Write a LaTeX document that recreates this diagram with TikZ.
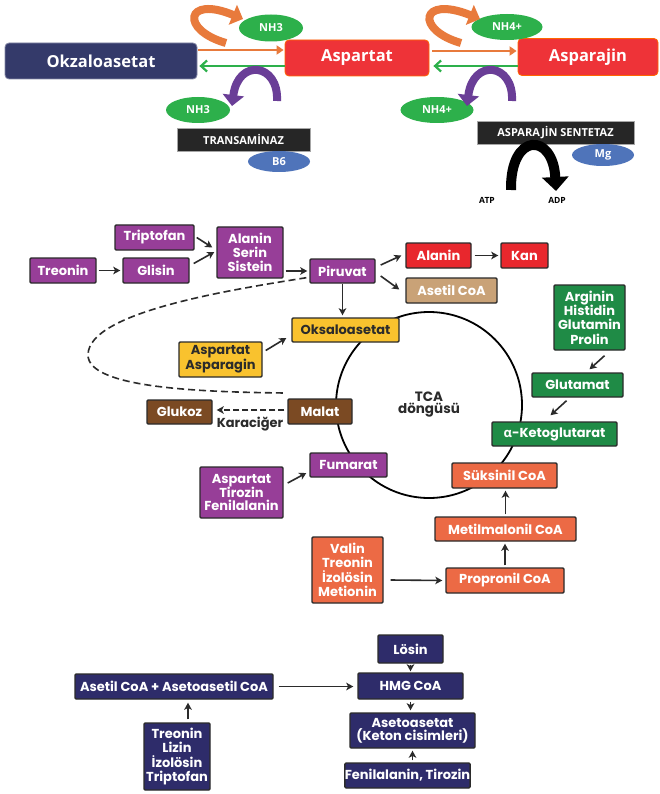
\documentclass[tikz,border=0pt]{standalone}
\usepackage{fontspec}
\setmainfont{Open Sans}
\newfontfamily\geo{Poppins}
\newfontfamily\grk{Open Sans}
\usetikzlibrary{arrows.meta,shapes.geometric}

\definecolor{navyA}{HTML}{343A6A}
\definecolor{navyB}{HTML}{2E2C6A}
\definecolor{redA}{HTML}{EE3338}
\definecolor{nhgreen}{HTML}{2DB04B}
\definecolor{enzblue}{HTML}{4F74BA}
\definecolor{enzblack}{HTML}{262626}
\definecolor{arrOrange}{HTML}{E87A3C}
\definecolor{arrGreen}{HTML}{2DB04B}
\definecolor{arrPurple}{HTML}{6A3E97}
\definecolor{boxline}{HTML}{2B2B2B}
\definecolor{purp}{HTML}{973E98}
\definecolor{redB}{HTML}{E8272D}
\definecolor{tanc}{HTML}{C9A277}
\definecolor{yel}{HTML}{F9C22E}
\definecolor{brn}{HTML}{7B4A23}
\definecolor{grn}{HTML}{1F8B46}
\definecolor{orgc}{HTML}{EC6A45}

\tikzset{
  topbox/.style={rounded corners=4pt, inner sep=0pt, text=white, line width=0.8pt,
    font=\bfseries\fontsize{16.5}{18}\selectfont},
  ell/.style={ellipse, inner sep=0pt, text=white, font=\bfseries\fontsize{11}{11}\selectfont},
  enzbox/.style={fill=enzblack, draw=gray!70, line width=0.6pt, inner sep=0pt, text=white,
    font=\bfseries\fontsize{11}{11}\selectfont},
  fatarrow/.style={line width=8pt, -{Triangle[length=11pt,width=21pt]}},
  thinarrow/.style={line width=2.2pt},
  mbox/.style={draw=boxline, line width=1.4pt, rounded corners=1.2pt, inner sep=0pt,
    align=center, text=white, font=\geo\bfseries\fontsize{13}{14}\selectfont},
  conn/.style={draw=boxline, line width=1.6pt, -{Stealth[length=7pt,width=7.5pt,inset=1.8pt]}},
  dashline/.style={draw=boxline, line width=1.6pt, dash pattern=on 7pt off 4pt},
}

\begin{document}
\begin{tikzpicture}[x=1pt,y=-1pt]
\useasboundingbox (0,0) rectangle (659,794);
\fill[white] (0,0) rectangle (659,794);

% ---------- Aspartat / Asparajin reactions ----------
\node[topbox, fill=navyA, draw=navyA!60!white, minimum width=192pt, minimum height=36pt] (okz) at (101,61) {Okzaloasetat};
\node[topbox, fill=redA, draw=orange!80!red, minimum width=144pt, minimum height=36pt] (asp) at (357,58) {Aspartat};
\node[topbox, fill=redA, draw=orange!80!red, minimum width=140pt, minimum height=37pt] (aspj) at (588,57) {Asparajin};

\draw[thinarrow, draw=arrOrange, -{Triangle[length=7pt,width=9pt]}] ([shift={(1,-11)}]okz.east) -- ([shift={(-1,-8)}]asp.west);
\draw[thinarrow, draw=arrGreen, -{Straight Barb[length=6pt,width=11pt]}] ([shift={(0,8)}]asp.west) -- ([shift={(2,5)}]okz.east);
\draw[thinarrow, draw=arrOrange, -{Triangle[length=7pt,width=9pt]}] ([shift={(3,-7)}]asp.east) -- ([shift={(-1,-6)}]aspj.west);
\draw[thinarrow, draw=arrGreen, -{Straight Barb[length=6pt,width=11pt]}] ([shift={(0,9)}]aspj.west) -- ([shift={(4,8)}]asp.east);

\node[ell, fill=nhgreen, minimum width=64pt, minimum height=27pt] (nh3a) at (271,28) {NH3};
\node[ell, fill=nhgreen, minimum width=64pt, minimum height=26pt] (nh3b) at (198,110) {NH3};
\node[ell, fill=nhgreen, minimum width=71pt, minimum height=26pt] (nh4a) at (507,27) {NH4+};
\node[ell, fill=nhgreen, minimum width=73pt, minimum height=26pt] (nh4b) at (437,110) {NH4+};

% curved amine-group arrows
\draw[fatarrow, draw=arrOrange] (226,43) .. controls (180,30) and (185,-5) .. (243,19);
\draw[fatarrow, draw=arrPurple] (277,101) .. controls (279,63) and (238,58) .. (232,106);
\draw[fatarrow, draw=arrOrange] (461,43) .. controls (415,30) and (420,-5) .. (480,19);
\draw[fatarrow, draw=arrPurple] (512,101) .. controls (514,63) and (473,58) .. (467,106);

\node[enzbox, minimum width=133pt, minimum height=23pt] (trans) at (243.5,139.5) {TRANSAMİNAZ};
\node[ell, fill=enzblue, minimum width=62pt, minimum height=21pt] (b6) at (279,161.5) {B6};
\node[enzbox, minimum width=157pt, minimum height=23pt] (asen) at (555.5,133) {ASPARAJİN SENTETAZ};
\node[ell, fill=enzblue, minimum width=62pt, minimum height=22pt] (mg) at (603,155) {Mg};

\draw[line width=10pt, draw=black, -{Triangle[length=14pt,width=26pt]}] (511,190) .. controls (510,132) and (553,132) .. (556,191);
\node[font=\bfseries\fontsize{8.5}{9}\selectfont] (atp) at (487,200) {ATP};
\node[font=\bfseries\fontsize{8.5}{9}\selectfont] (adp) at (557,200) {ADP};

% ---------- TCA cycle ----------
\node[circle, draw=black, line width=1.8pt, minimum size=186pt, inner sep=0pt, align=center,
  text=boxline, font=\geo\bfseries\fontsize{13.5}{12}\selectfont] (tca) at (429,405) {TCA\\döngüsü};

\node[mbox, fill=purp, minimum width=79pt, minimum height=25pt] (trip) at (154.5,237.5) {Triptofan};
\node[mbox, fill=purp, minimum width=66pt, minimum height=25pt] (glis) at (156,270.5) {Glisin};
\node[mbox, fill=purp, minimum width=66pt, minimum height=25pt] (treo) at (63,270.5) {Treonin};
\node[mbox, fill=purp, minimum width=66pt, minimum height=51pt] (ass) at (250,252.5) {Alanin\\Serin\\Sistein};
\node[mbox, fill=purp, minimum width=65pt, minimum height=24pt] (piru) at (342.5,271) {Piruvat};
\node[mbox, fill=redB, minimum width=65pt, minimum height=25pt] (alar) at (438.5,255.5) {Alanin};
\node[mbox, fill=redB, minimum width=47pt, minimum height=25pt] (kan) at (524.5,255.5) {Kan};
\node[mbox, fill=tanc, minimum width=91pt, minimum height=25pt] (acoa) at (451.5,290.5) {Asetil CoA};

\draw[dashline] ([shift={(-3,-6)}]piru.south west) .. controls (230,290) and (88,312) .. (88,355)
  .. controls (88,388) and (200,392) .. (285,393);

\node[mbox, fill=yel, text=boxline, minimum width=107pt, minimum height=24pt] (oks) at (345.5,330) {Oksaloasetat};
\node[mbox, fill=yel, text=boxline, minimum width=83pt, minimum height=35pt, font=\geo\bfseries\fontsize{13}{13}\selectfont] (aa) at (220.5,359.5) {Aspartat\\Asparagin};
\node[mbox, fill=brn, minimum width=65pt, minimum height=24pt] (gluk) at (179.5,412) {Glukoz};
\node[mbox, fill=brn, minimum width=64pt, minimum height=25pt] (mal) at (320,411.5) {Malat};
\node[text=boxline, font=\geo\bfseries\fontsize{13}{13}\selectfont, inner sep=0pt] (kar) at (250,424) {Karaciğer};
\node[mbox, fill=purp, minimum width=77pt, minimum height=24pt] (fum) at (348.5,465) {Fumarat};
\node[mbox, fill=purp, minimum width=83pt, minimum height=51pt, font=\geo\bfseries\fontsize{13}{13}\selectfont] (atf) at (241.5,492.5) {Aspartat\\Tirozin\\Fenilalanin};
\node[mbox, fill=orgc, minimum width=105pt, minimum height=25pt] (suk) at (504.5,475.5) {Süksinil CoA};
\node[mbox, fill=orgc, minimum width=141pt, minimum height=24pt] (metm) at (505.5,529) {Metilmalonil CoA};
\node[mbox, fill=orgc, minimum width=118pt, minimum height=25pt] (prop) at (505,580.5) {Propronil CoA};
\node[mbox, fill=orgc, minimum width=71pt, minimum height=66pt, font=\geo\bfseries\fontsize{13}{14.5}\selectfont] (vtim) at (347.5,570) {Valin\\Treonin\\İzolösin\\Metionin};
\node[mbox, fill=grn, minimum width=125pt, minimum height=24pt] (akg) at (554.5,434) {{\grk α}-Ketoglutarat};
\node[mbox, fill=grn, minimum width=91pt, minimum height=24pt] (glut) at (577.5,385) {Glutamat};
\node[mbox, fill=grn, minimum width=71pt, minimum height=65pt, font=\geo\bfseries\fontsize{13}{14.3}\selectfont] (ahgp) at (589.5,317.5) {Arginin\\Histidin\\Glutamin\\Prolin};

\draw[conn, shorten <=2pt, shorten >=2pt] (treo.east) -- (glis.west);
\draw[conn] ([shift={(4,-7)}]glis.east) -- ([shift={(-2,-0.5)}]ass.west);
\draw[conn] ([shift={(2,0)}]trip.east) -- ([shift={(-4,-5)}]ass.west);
\draw[conn] ([shift={(2,18.5)}]ass.east) -- ([shift={(-2,0)}]piru.west);
\draw[conn] ([shift={(5,-6)}]piru.east) -- ([shift={(-4,0)}]alar.west);
\draw[conn] ([shift={(5,5)}]piru.east) -- ([shift={(-6,-1)}]acoa.west);
\draw[conn, shorten >=2pt] (piru.south) -- (piru.south |- oks.north);
\draw[conn, shorten <=3pt, shorten >=2pt] (alar.east) -- (kan.west);
\draw[conn] ([shift={(3,-9)}]aa.east) -- ([shift={(-5,8)}]oks.west);
\draw[conn] ([shift={(15,5)}]ahgp.south) -- ([shift={(12,-3)}]glut.north);
\draw[conn] ([shift={(-11,3)}]glut.south) -- ([shift={(-4,-6)}]akg.north);
\draw[conn] ([shift={(4,-9.5)}]atf.east) -- ([shift={(-3,8)}]fum.west);
\draw[conn] ([shift={(7,10)}]vtim.east) -- ([shift={(-3,0)}]prop.west);
\draw[conn, shorten <=2pt, shorten >=2pt] (prop.north) -- (prop.north |- metm.south);
\draw[conn, shorten <=2pt, shorten >=2pt] (metm.north) -- (metm.north |- suk.south);
\draw[draw=boxline, line width=1.5pt, dash pattern=on 6pt off 3pt, -{Stealth[length=7pt,width=7.5pt,inset=1.8pt]}] ([shift={(-3,-1.5)}]mal.west) -- ([shift={(4,-2)}]gluk.east);

% ---------- ketogenic amino acids ----------
\node[mbox, fill=navyB, minimum width=65pt, minimum height=28pt] (los) at (410.5,649) {Lösin};
\node[mbox, fill=navyB, minimum width=105pt, minimum height=26pt] (hmg) at (410.5,686) {HMG CoA};
\node[mbox, fill=navyB, minimum width=198pt, minimum height=25pt] (asac) at (174,686.5) {Asetil CoA + Asetoasetil CoA};
\node[mbox, fill=navyB, minimum width=66pt, minimum height=67pt, font=\geo\bfseries\fontsize{13}{14.5}\selectfont] (tlit) at (177,756.5) {Treonin\\Lizin\\İzolösin\\Triptofan};
\node[mbox, fill=navyB, minimum width=125pt, minimum height=35pt, font=\geo\bfseries\fontsize{13}{13}\selectfont] (keto) at (412.5,730.5) {Asetoasetat\\(Keton cisimleri)};
\node[mbox, fill=navyB, minimum width=123pt, minimum height=25pt] (fent) at (407.5,775.5) {Fenilalanin, Tirozin};

\draw[conn, shorten <=5pt, shorten >=4pt] (asac.east) -- (hmg.west |- asac.east);
\draw[conn] ([shift={(11,-3)}]tlit.north) -- ([shift={(14,3)}]asac.south);
\draw[conn, shorten <=1pt, shorten >=1pt] (los.south) -- (los.south |- hmg.north);
\draw[conn, shorten <=2pt, shorten >=2pt] (hmg.south) -- (hmg.south |- keto.north);
\draw[conn, shorten <=2pt, shorten >=2pt] (fent.north -| keto.south) -- (keto.south);
\end{tikzpicture}
\end{document}
